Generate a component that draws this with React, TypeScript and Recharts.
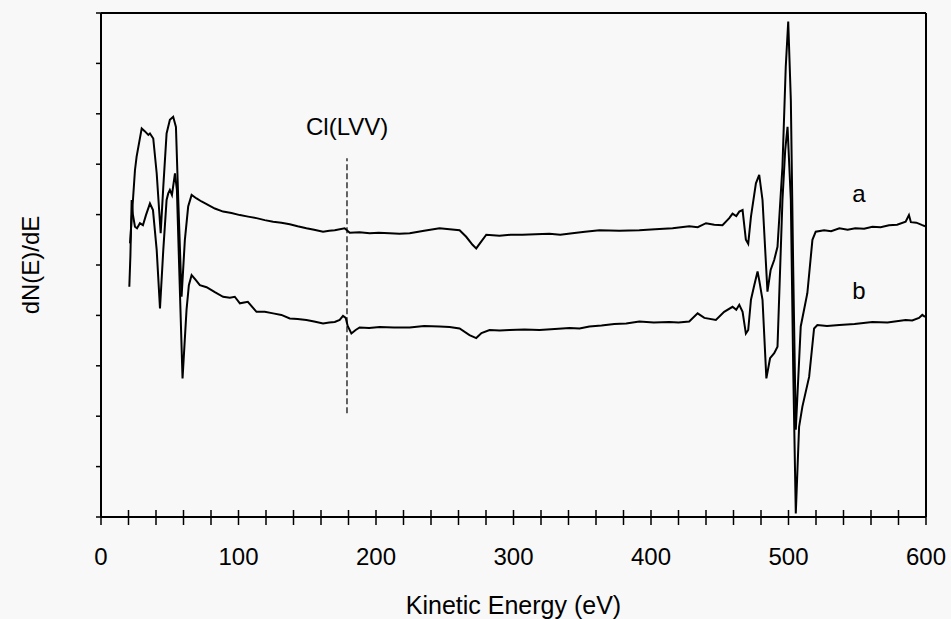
import { LineChart, Line, XAxis, YAxis, ReferenceLine, ReferenceDot, Label } from "recharts";

// energy (eV) / intensity (arbitrary units, 0-10 span of the frame)
const curveA = [
  [21.1, 5.43], [24.7, 6.88], [25.9, 7.15], [29.6, 7.71], [32, 7.65], [34.4, 7.58], [35.6, 7.61],
  [38, 7.51], [40.5, 6.82], [43.4, 5.63], [45.3, 6.55], [47.7, 7.61], [50.1, 7.88], [52.5, 7.94],
  [54.5, 7.74], [56.2, 6.29], [58.6, 4.37], [61, 5.5], [63.4, 6.16], [65.9, 6.39], [69.5, 6.32],
  [73.1, 6.26], [76.8, 6.21], [82.8, 6.12], [88.8, 6.06], [94.9, 6.03], [101, 5.99], [107, 5.96],
  [113.1, 5.93], [119.1, 5.89], [125.2, 5.86], [131.2, 5.84], [137.3, 5.81], [143, 5.77],
  [149.4, 5.73], [155, 5.7], [161.5, 5.66], [166, 5.68], [170, 5.69], [177.2, 5.73], [180.9, 5.64],
  [188, 5.65], [195.4, 5.63], [202, 5.64], [209.9, 5.63], [217, 5.62], [224.5, 5.63], [235, 5.68],
  [246.2, 5.73], [253.5, 5.71], [260.8, 5.69], [265.6, 5.56], [270.2, 5.4], [272.9, 5.33],
  [275.3, 5.42], [280.2, 5.6], [289.8, 5.58], [298, 5.6], [306.5, 5.6], [316, 5.61], [326.1, 5.62],
  [334, 5.6], [342.8, 5.63], [352, 5.66], [362.5, 5.69], [377, 5.68], [391.5, 5.69], [403, 5.71],
  [415.7, 5.73], [427.8, 5.77], [434, 5.75], [440, 5.83], [446, 5.8], [452, 5.79], [456.9, 5.93],
  [459.3, 6.02], [462, 5.97], [464.2, 6.06], [466.6, 6.09], [469, 5.5], [470.7, 5.42], [472.7, 5.96],
  [476.3, 6.62], [478.7, 6.79], [481.1, 6.29], [484.7, 4.47], [487, 4.9], [489.6, 5.1], [492, 5.36],
  [495.6, 6.95], [498, 8.93], [499.8, 9.83], [501.7, 8.27], [503.4, 4.97], [505.3, 1.73],
  [508.9, 3.78], [513.7, 4.44], [517.4, 5.5], [519.8, 5.66], [525.9, 5.69], [531, 5.67], [537, 5.73],
  [543, 5.7], [548.6, 5.73], [555, 5.72], [561, 5.76], [567, 5.75], [573.1, 5.79], [579, 5.8],
  [585.2, 5.86], [587.6, 5.99], [589, 5.85], [593, 5.84], [597.3, 5.79], [599.3, 5.77],
];

const curveB = [
  [20.6, 4.57], [21.4, 5.2], [22.3, 6.29], [23.2, 6.0], [24.7, 5.76], [26.2, 5.73], [28.3, 5.83],
  [30.5, 5.79], [32.7, 5.99], [35.6, 6.22], [37.8, 6.09], [40.5, 5.3], [42.9, 4.14], [45.3, 5.3],
  [47.7, 6.29], [48.9, 6.42], [50.1, 6.49], [51.6, 6.39], [53.8, 6.82], [55.2, 6.49], [56.7, 5.1],
  [59.3, 2.75], [62.2, 4.11], [63.9, 4.6], [65.9, 4.8], [69, 4.7], [71.9, 4.6], [76.8, 4.56],
  [82.8, 4.46], [88.8, 4.37], [93.7, 4.35], [97.3, 4.37], [101, 4.24], [106.8, 4.27], [113.1, 4.07],
  [119.1, 4.07], [125.2, 4.04], [131.2, 4.01], [137.3, 3.94], [143, 3.93], [149.4, 3.91],
  [155, 3.88], [161.5, 3.84], [166, 3.86], [170, 3.87], [173.6, 3.91], [176, 3.99], [178, 3.95],
  [179.4, 3.79], [182.1, 3.64], [185.2, 3.71], [188.1, 3.76], [195, 3.75], [202.7, 3.77],
  [213, 3.76], [224.5, 3.76], [235, 3.79], [246.2, 3.78], [253.5, 3.77], [260.8, 3.74], [268, 3.61],
  [272.9, 3.55], [276.7, 3.65], [282.6, 3.71], [290, 3.7], [297.1, 3.71], [308, 3.72], [318.9, 3.71],
  [330, 3.73], [340.7, 3.75], [348, 3.74], [355.2, 3.78], [364, 3.8], [373.3, 3.83], [382, 3.84],
  [391.5, 3.88], [402, 3.86], [413.3, 3.87], [420, 3.86], [427.8, 3.88], [433.9, 4.04], [438.8, 3.95],
  [447.2, 3.91], [453.2, 4.07], [459.3, 4.17], [462, 4.11], [464.2, 4.21], [466.6, 4.07], [469, 3.64],
  [470.7, 3.71], [472.7, 4.31], [475.1, 4.6], [477.5, 4.87], [478.7, 4.7], [481.1, 4.31],
  [483.9, 2.75], [486.6, 3.15], [489.6, 3.25], [492, 3.38], [495.6, 6.29], [497.6, 7.28],
  [499.3, 7.74], [501.7, 6.29], [503.4, 2.98], [505.3, 0.07], [507.7, 1.79], [510.1, 2.19],
  [515, 2.78], [518.6, 3.74], [521, 3.81], [528, 3.79], [537, 3.81], [548, 3.83], [561, 3.87],
  [572, 3.86], [585.2, 3.91], [590, 3.9], [594.9, 3.95], [597.3, 4.01], [599.3, 3.97],
];

const energyTicks = [
  0, 20, 40, 60, 80, 100, 120, 140, 160, 180, 200, 220, 240, 260, 280, 300,
  320, 340, 360, 380, 400, 420, 440, 460, 480, 500, 520, 540, 560, 580, 600,
];
const intensityTicks = [0, 1, 2, 3, 4, 5, 6, 7, 8, 9, 10];

// Cl(LVV) marker position and text annotations
const clEnergy = 178.9;
const clSpan = [2.06, 7.12];
const annotations = [
  { text: "Cl(LVV)", e: 179.0, v: 7.74 },
  { text: "a", e: 551.3, v: 6.41 },
  { text: "b", e: 551.3, v: 4.5 },
];

const seriesA = curveA.map(([e, v]) => ({ e, v }));
const seriesB = curveB.map(([e, v]) => ({ e, v }));

// x ticks cross the axis line, labels only every 100 eV
function EnergyTick(props: any) {
  const { x, y, payload } = props;
  const val = payload.value;
  return (
    <g>
      <line x1={x} x2={x} y1={y - 7} y2={y + 8} stroke="#000" strokeWidth={1.5} />
      {val % 100 === 0 && (
        <text x={x} y={y + 48} textAnchor="middle" fontSize={24} fill="#000">
          {val}
        </text>
      )}
    </g>
  );
}

export default function App() {
  return (
    <div
      style={{
        position: "absolute",
        left: 0,
        top: 0,
        width: 951,
        height: 619,
        background: "#f8f8f8",
        fontFamily: "'Liberation Sans', Arial, sans-serif",
      }}
    >
      <LineChart width={951} height={619} margin={{ top: 13, right: 25, left: 0, bottom: 0 }}>
        <XAxis
          type="number"
          dataKey="e"
          domain={[0, 600]}
          ticks={energyTicks}
          interval={0}
          tickSize={0}
          tickMargin={0}
          tickLine={false}
          tick={<EnergyTick />}
          axisLine={{ stroke: "#000", strokeWidth: 2 }}
          height={102}
        >
          <Label value="Kinetic Energy (eV)" position="insideBottom" offset={5} fontSize={25} fill="#000" />
        </XAxis>
        <YAxis
          type="number"
          domain={[0, 10]}
          ticks={intensityTicks}
          interval={0}
          tickSize={5}
          tickFormatter={() => ""}
          tickLine={{ stroke: "#000", strokeWidth: 1.5 }}
          axisLine={{ stroke: "#000", strokeWidth: 2 }}
          width={101}
        >
          <Label
            content={({ viewBox }: any) => {
              const cx = viewBox.x + 30;
              const cy = viewBox.y + viewBox.height / 2;
              return (
                <text
                  x={cx}
                  y={cy}
                  transform={`rotate(-90 ${cx} ${cy})`}
                  textAnchor="middle"
                  dominantBaseline="central"
                  fontSize={24}
                  fill="#000"
                >
                  dN(E)/dE
                </text>
              );
            }}
          />
        </YAxis>
        {/* frame top and right */}
        <ReferenceLine y={10} stroke="#000" strokeWidth={2} />
        <ReferenceLine x={600} stroke="#000" strokeWidth={2} />
        <ReferenceLine
          segment={[{ x: clEnergy, y: clSpan[0] }, { x: clEnergy, y: clSpan[1] }]}
          stroke="#000"
          strokeWidth={1.2}
          strokeDasharray="6 3"
        />
        <Line
          data={seriesA}
          dataKey="v"
          type="linear"
          stroke="#000"
          strokeWidth={2}
          dot={false}
          activeDot={false}
          isAnimationActive={false}
        />
        <Line
          data={seriesB}
          dataKey="v"
          type="linear"
          stroke="#000"
          strokeWidth={2}
          dot={false}
          activeDot={false}
          isAnimationActive={false}
        />
        {annotations.map((a) => (
          <ReferenceDot
            key={a.text}
            x={a.e}
            y={a.v}
            r={0}
            fill="none"
            stroke="none"
            label={{ value: a.text, position: "center", fontSize: 24, fill: "#000" }}
          />
        ))}
      </LineChart>
    </div>
  );
}
